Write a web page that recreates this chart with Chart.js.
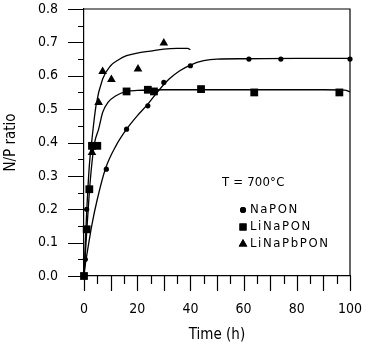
<!DOCTYPE html>
<html>
<head>
<meta charset="utf-8">
<script src="https://cdn.jsdelivr.net/npm/chart.js@4/dist/chart.umd.min.js"></script>
<style>
  html, body { margin: 0; padding: 0; background: #fff; }
  canvas { display: block; }
</style>
</head>
<body>
<canvas id="myChart" width="372" height="349"></canvas>
<script>
const FONT = "'DejaVu Sans Condensed', 'DejaVu Sans', sans-serif";

const seriesNames = ["NaPON", "LiNaPON", "LiNaPbPON"];
const tempNote = "T = 700\u00B0C";
const xTitle = "Time (h)";
const yTitle = "N/P ratio";

// measured points
const naponTime  = [0.5, 1, 8.4, 16, 24, 30, 40, 62, 74, 100];
const naponRatio = [0.05, 0.2, 0.32, 0.44, 0.51, 0.58, 0.63, 0.65, 0.65, 0.65];

const linaponTime  = [0, 1, 2, 3, 5, 16, 24, 26.3, 44, 64, 96];
const linaponRatio = [0, 0.14, 0.26, 0.39, 0.39, 0.553, 0.558, 0.553, 0.56, 0.55, 0.55];

const linapbponTime  = [3, 5.5, 7, 10.3, 20.3, 30];
const linapbponRatio = [0.37, 0.52, 0.613, 0.589, 0.62, 0.698];

// fitted curves
const naponFitTime  = [0, 0.5, 1, 3, 5, 8, 12, 16, 20, 24, 28, 32, 36, 40, 45, 50, 60, 80, 100];
const naponFitRatio = [0, 0.035, 0.06, 0.155, 0.23, 0.32, 0.39, 0.44, 0.48, 0.515, 0.555, 0.59, 0.615, 0.632, 0.645, 0.65, 0.651, 0.652, 0.652];

const linaponFitTime  = [0, 1, 2, 3, 4, 5.5, 7, 9, 12, 16, 20, 30, 50, 70, 90, 98, 100];
const linaponFitRatio = [0, 0.13, 0.25, 0.34, 0.4, 0.44, 0.49, 0.52, 0.54, 0.553, 0.556, 0.558, 0.558, 0.558, 0.558, 0.557, 0.552];

const linapbponFitTime  = [0, 0.5, 1, 2, 3, 4.5, 7, 10, 13, 16, 20, 25, 30, 35, 39, 40];
const linapbponFitRatio = [0, 0.1, 0.19, 0.33, 0.41, 0.51, 0.59, 0.63, 0.648, 0.66, 0.668, 0.674, 0.68, 0.682, 0.682, 0.678];

function toXY(xs, ys) {
    return xs.map((v, i) => ({ x: v, y: ys[i] }));
}

function fitLine(xs, ys) {
    return {
        data: toXY(xs, ys),
        showLine: true,
        borderColor: "#000",
        borderWidth: 1.3,
        pointRadius: 0,
        tension: 0.4,
        cubicInterpolationMode: "monotone",
        clip: false
    };
}

function markers(label, xs, ys, style, radius) {
    return {
        label: label,
        data: toXY(xs, ys),
        showLine: false,
        pointStyle: style,
        pointRadius: radius,
        pointBackgroundColor: "#000",
        pointBorderColor: "#000",
        pointBorderWidth: 0,
        clip: false
    };
}

// axis frame, tick marks, note and legend
const frameAndTicks = {
    id: "frameAndTicks",
    afterDraw(chart) {
        const { ctx, scales: { x, y } } = chart;
        ctx.save();
        ctx.strokeStyle = "#000";
        ctx.lineWidth = 1.2;
        ctx.beginPath();
        ctx.moveTo(x.left, y.top);
        ctx.lineTo(x.right, y.top);
        ctx.lineTo(x.right, y.bottom);
        for (let v = 0; v <= 100; v += 5) {
            const px = Math.round(x.getPixelForValue(v)) + 0.5;
            ctx.moveTo(px, y.bottom);
            ctx.lineTo(px, y.bottom + (v % 10 === 0 ? 15 : 8));
        }
        for (let i = 0; i <= 16; i++) {
            const py = Math.round(y.getPixelForValue(i * 0.05)) + 0.5;
            ctx.moveTo(x.left, py);
            ctx.lineTo(x.left - (i % 2 === 0 ? 16 : 6), py);
        }
        ctx.stroke();

        ctx.fillStyle = "#000";
        ctx.textBaseline = "middle";
        ctx.textAlign = "left";
        ctx.font = "13px " + FONT;
        ctx.letterSpacing = "0.2px";
        ctx.fillText(tempNote, 222, 183);

        ctx.letterSpacing = "1.6px";
        const rows = [210, 227, 244];
        const styles = ["circle", "rect", "triangle"];
        const sizes = [3, 5, 5];
        seriesNames.forEach((name, i) => {
            Chart.helpers.drawPoint(ctx, { pointStyle: styles[i], radius: sizes[i], borderWidth: 0 }, 243, rows[i]);
            ctx.fill();
            ctx.fillText(name, 250, rows[i]);
        });
        ctx.restore();
    }
};

const myChart = new Chart(document.getElementById("myChart").getContext("2d"), {
    type: "scatter",
    data: {
        datasets: [
            fitLine(naponFitTime, naponFitRatio),
            fitLine(linaponFitTime, linaponFitRatio),
            fitLine(linapbponFitTime, linapbponFitRatio),
            markers(seriesNames[0], naponTime, naponRatio, "circle", 2.6),
            markers(seriesNames[1], linaponTime, linaponRatio, "rect", 5.5),
            markers(seriesNames[2], linapbponTime, linapbponRatio, "triangle", 5)
        ]
    },
    options: {
        responsive: false,
        animation: false,
        layout: { padding: { top: 9, right: 22, left: 0, bottom: 0 } },
        plugins: {
            legend: { display: false },
            tooltip: { enabled: false }
        },
        scales: {
            x: {
                type: "linear",
                min: 0,
                max: 100,
                grid: { display: false, drawTicks: false },
                border: { display: true, color: "#000", width: 1.2 },
                ticks: {
                    stepSize: 20,
                    padding: 25,
                    color: "#000",
                    font: { family: FONT, size: 14 },
                    maxRotation: 0
                },
                title: {
                    display: true,
                    text: xTitle,
                    color: "#000",
                    font: { family: FONT, size: 15, weight: "normal" },
                    padding: { top: 0, bottom: 5 }
                },
                afterFit: s => { s.height = 73; s.paddingLeft = 0; s.paddingRight = 0; }
            },
            y: {
                min: 0,
                max: 0.8,
                grid: { display: false, drawTicks: false },
                border: { display: true, color: "#000", width: 1.2 },
                ticks: {
                    stepSize: 0.1,
                    padding: 26,
                    color: "#000",
                    font: { family: FONT, size: 14 },
                    callback: v => v.toFixed(1)
                },
                title: {
                    display: true,
                    text: yTitle,
                    color: "#000",
                    font: { family: FONT, size: 15, weight: "normal" },
                    padding: { top: 2, bottom: 0 }
                },
                afterFit: s => { s.width = 84; s.paddingTop = 0; s.paddingBottom = 0; }
            }
        }
    },
    plugins: [frameAndTicks]
});
</script>
</body>
</html>
